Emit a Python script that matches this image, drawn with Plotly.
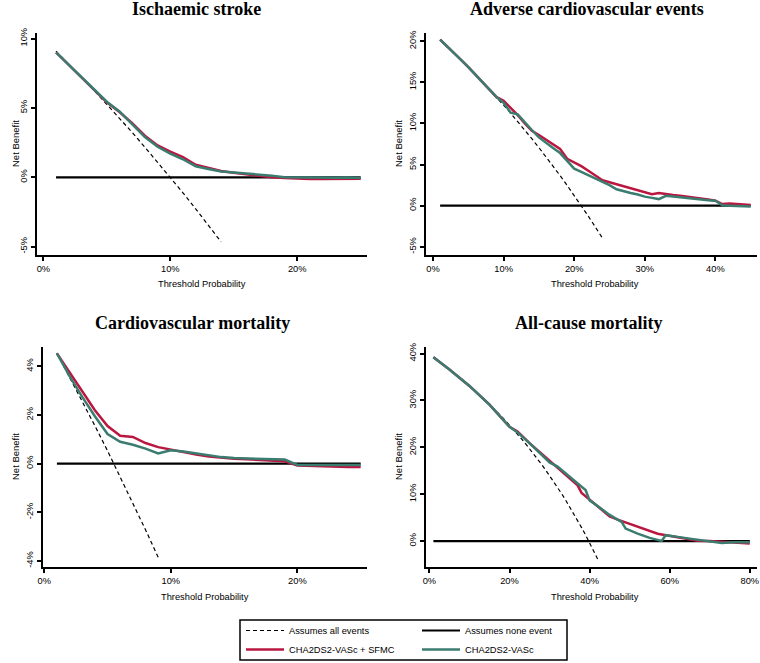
import plotly.graph_objects as go

W, H = 760, 663

# ---- data (net benefit in %, threshold probability in %) ----
# Ischaemic stroke
is_pt = list(range(1, 26))
is_sfmc = [9.0, 8.1, 7.2, 6.3, 5.4, 4.7, 3.9, 3.0, 2.3, 1.85, 1.45, 0.9, 0.65, 0.45, 0.33,
           0.22, 0.12, 0.0, -0.05, -0.1, -0.12, -0.12, -0.1, -0.12, -0.1]
is_cha = [9.0, 8.1, 7.2, 6.3, 5.45, 4.75, 3.85, 2.9, 2.2, 1.7, 1.3, 0.8, 0.6, 0.42, 0.35,
          0.28, 0.2, 0.12, 0.0, -0.02, -0.02, -0.03, -0.03, -0.02, -0.05]
is_all_pt = list(range(1, 15))
is_all = [9.09, 8.16, 7.22, 6.25, 5.26, 4.26, 3.23, 2.17, 1.10, 0.0, -1.12, -2.27, -3.45, -4.65]

# Adverse cardiovascular events
ace_pt = list(range(1, 46))
ace_sfmc = [20.2, 19.4, 18.55, 17.7, 16.85, 15.95, 15.05, 14.1, 13.2, 12.75, 11.9, 11.0, 10.0, 9.1, 8.6,
            8.0, 7.4, 6.9, 5.7, 5.3, 4.8, 4.25, 3.7, 3.1, 2.85, 2.6, 2.35, 2.1, 1.85, 1.6,
            1.4, 1.55, 1.4, 1.3, 1.2, 1.1, 1.0, 0.9, 0.75, 0.6, 0.2, 0.25, 0.2, 0.12, 0.08]
ace_cha = [20.2, 19.4, 18.55, 17.7, 16.85, 15.95, 15.05, 14.1, 13.2, 12.5, 11.3, 11.1, 10.1, 9.2, 8.3,
           7.6, 7.0, 6.4, 5.5, 4.5, 4.1, 3.7, 3.3, 2.9, 2.5, 2.0, 1.75, 1.55, 1.35, 1.1,
           0.95, 0.8, 1.2, 1.1, 1.0, 0.95, 0.85, 0.75, 0.65, 0.6, 0.05, 0.0, -0.05, -0.1, -0.1]
ace_all_pt = list(range(1, 25))
ace_all = [20.2, 19.39, 18.56, 17.71, 16.84, 15.96, 15.05, 14.13, 13.19, 12.22, 11.24, 10.23,
           9.20, 8.14, 7.06, 5.95, 4.82, 3.66, 2.47, 1.25, 0.0, -1.28, -2.60, -3.95]

# Cardiovascular mortality
cvm_pt = list(range(1, 26))
cvm_sfmc = [4.54, 3.75, 2.95, 2.2, 1.55, 1.15, 1.1, 0.85, 0.68, 0.57, 0.47, 0.38, 0.3, 0.24, 0.2,
            0.18, 0.15, 0.13, 0.1, -0.08, -0.1, -0.12, -0.13, -0.14, -0.14]
cvm_cha = [4.54, 3.6, 2.75, 1.95, 1.22, 0.9, 0.78, 0.62, 0.42, 0.55, 0.5, 0.42, 0.34, 0.27, 0.23,
           0.22, 0.21, 0.19, 0.17, -0.05, -0.05, -0.05, -0.05, -0.05, -0.05]
cvm_all_pt = list(range(1, 10))
cvm_all = [4.55, 3.57, 2.58, 1.56, 0.53, -0.53, -1.61, -2.72, -3.85]

# All-cause mortality
acm_pt = [1, 5, 10, 15, 20, 22, 25, 28, 30, 32, 34, 36, 37, 38, 39, 40, 42, 45, 47, 48, 49, 50,
          52, 55, 57, 58, 59, 60, 62, 65, 67, 70, 73, 76, 80]
acm_sfmc = [39.2, 36.6, 33.1, 29.1, 24.4, 23.4, 20.9, 18.7, 17.2, 15.7, 14.3, 12.7, 11.9, 10.3, 9.6,
            9.0, 7.4, 5.3, 4.6, 4.3, 4.0, 3.7, 3.1, 2.1, 1.6, 1.45, 1.3, 1.2, 0.75, 0.35, 0.1, 0.05,
            -0.15, -0.3, -0.5]
acm_cha = [39.2, 36.6, 33.1, 29.1, 24.4, 23.2, 20.9, 18.5, 16.8, 15.9, 14.4, 12.9, 12.3, 11.6, 10.9,
           8.7, 7.5, 5.6, 4.6, 4.1, 2.7, 2.3, 1.6, 0.71, 0.25, 0.07, 1.28, 1.2, 0.92, 0.55, 0.3, -0.1,
           -0.36, -0.25, -0.2]
acm_all_pt = list(range(1, 43))
acm_all = [39.19, 38.57, 37.94, 37.29, 36.63, 35.96, 35.27, 34.57, 33.85, 33.11, 32.36, 31.59,
           30.80, 30.00, 29.18, 28.33, 27.47, 26.59, 25.68, 24.75, 23.80, 22.82, 21.82, 20.79,
           19.73, 18.65, 17.53, 16.39, 15.21, 14.00, 12.75, 11.47, 10.15, 8.79, 7.39, 5.94,
           4.44, 2.90, 1.31, -0.33, -2.03, -3.79]

titles = ["Ischaemic stroke", "Adverse cardiovascular events",
          "Cardiovascular mortality", "All-cause mortality"]

panels = [
    dict(pt=is_pt, sfmc=is_sfmc, cha=is_cha, apt=is_all_pt, all=is_all,
         xr=[-0.5, 25.5], xt=[0, 10, 20], yr=[-5.6, 10.4], yt=[-5, 0, 5, 10]),
    dict(pt=ace_pt, sfmc=ace_sfmc, cha=ace_cha, apt=ace_all_pt, all=ace_all,
         xr=[-1.0, 45.9], xt=[0, 10, 20, 30, 40], yr=[-6.0, 21.0], yt=[-5, 0, 5, 10, 15, 20]),
    dict(pt=cvm_pt, sfmc=cvm_sfmc, cha=cvm_cha, apt=cvm_all_pt, all=cvm_all,
         xr=[-0.1, 25.5], xt=[0, 10, 20], yr=[-4.25, 4.8], yt=[-4, -2, 0, 2, 4]),
    dict(pt=acm_pt, sfmc=acm_sfmc, cha=acm_cha, apt=acm_all_pt, all=acm_all,
         xr=[-0.85, 81.8], xt=[0, 20, 40, 60, 80], yr=[-5.5, 41.4], yt=[0, 10, 20, 30, 40]),
]

# plot-area boxes in pixels: (left, right, top, bottom)
boxes = [(37, 367, 33, 255), (426, 757, 33, 255), (43, 367, 347, 567), (426, 757, 347, 567)]

RED = "#BA1740"
GREEN = "#3B7C71"
AX_FONT = dict(family="Liberation Sans, Arial", size=9.3, color="black")

fig = go.Figure()
layout = {}
for i, (p, b) in enumerate(zip(panels, boxes)):
    n = "" if i == 0 else str(i + 1)
    xa, ya = "x" + n, "y" + n
    first = i == 0
    fig.add_trace(go.Scatter(x=p["apt"], y=p["all"], mode="lines", xaxis=xa, yaxis=ya,
                             line=dict(color="black", width=1.2, dash="4px,3px"),
                             name="Assumes all events", legend="legend", showlegend=first))
    fig.add_trace(go.Scatter(x=[p["pt"][0], p["pt"][-1]], y=[0, 0], mode="lines", xaxis=xa, yaxis=ya,
                             line=dict(color="black", width=2.2),
                             name="Assumes none event", legend="legend2", showlegend=first))
    fig.add_trace(go.Scatter(x=p["pt"], y=p["sfmc"], mode="lines", xaxis=xa, yaxis=ya,
                             line=dict(color=RED, width=2.5),
                             name="CHA2DS2-VASc + SFMC", legend="legend", showlegend=first))
    fig.add_trace(go.Scatter(x=p["pt"], y=p["cha"], mode="lines", xaxis=xa, yaxis=ya,
                             line=dict(color=GREEN, width=2.5),
                             name="CHA2DS2-VASc", legend="legend2", showlegend=first))

    l, r, t, btm = b
    common = dict(showline=True, linecolor="black", linewidth=2, ticks="outside", ticklen=4,
                  tickwidth=2, tickcolor="black", showgrid=False, zeroline=False,
                  tickfont=AX_FONT, fixedrange=True, automargin=False)
    layout["xaxis" + n] = dict(common, domain=[l / W, r / W], range=p["xr"], anchor=ya,
                               tickvals=p["xt"], ticktext=[f"{v}%" for v in p["xt"]])
    layout["yaxis" + n] = dict(common, domain=[1 - btm / H, 1 - t / H], range=p["yr"], anchor=xa,
                               tickvals=p["yt"], ticktext=[f"{v}%" for v in p["yt"]],
                               tickangle=-90)

fig.update_layout(**layout)

title_pos = [(196, 9), (587, 9), (192, 323), (588, 323)]
xlab_pos = [(202, 284), (595, 284), (205, 597), (595, 597)]
ylab_pos = [(15, 144), (398, 144), (15, 457), (398, 457)]
ann = []
for txt, (tx, ty), (xx, xy), (yx, yy) in zip(titles, title_pos, xlab_pos, ylab_pos):
    ann.append(dict(text=f"<b>{txt}</b>", x=tx / W, y=1 - ty / H, xref="paper", yref="paper",
                    showarrow=False, xanchor="center", yanchor="middle",
                    font=dict(family="Liberation Serif, Times New Roman", size=18, color="black")))
    ann.append(dict(text="Threshold Probability", x=xx / W, y=1 - xy / H, xref="paper",
                    yref="paper", showarrow=False, xanchor="center", yanchor="middle",
                    font=dict(family="Liberation Sans, Arial", size=9.3, color="black")))
    ann.append(dict(text="Net Benefit", x=yx / W, y=1 - yy / H, xref="paper", yref="paper",
                    showarrow=False, xanchor="center", yanchor="middle", textangle=-90,
                    font=dict(family="Liberation Sans, Arial", size=9.5, color="black")))

leg_font = dict(family="Liberation Sans, Arial", size=9.3, color="black")
fig.update_layout(
    width=W, height=H,
    margin=dict(l=0, r=0, t=0, b=0, autoexpand=False),
    paper_bgcolor="white", plot_bgcolor="white",
    annotations=ann,
    legend=dict(x=241 / W, y=1 - 616 / H, xanchor="left", yanchor="top", font=leg_font,
                bgcolor="rgba(0,0,0,0)", itemwidth=38, tracegroupgap=0),
    legend2=dict(x=417 / W, y=1 - 616 / H, xanchor="left", yanchor="top", font=leg_font,
                 bgcolor="rgba(0,0,0,0)", itemwidth=38, tracegroupgap=0),
    shapes=[dict(type="rect", xref="paper", yref="paper", x0=240 / W, x1=567 / W,
                 y0=1 - 660 / H, y1=1 - 620 / H, line=dict(color="black", width=1.5))],
)

# the page body has a default 8px margin; drop it so the figure fills the window
fig.write_html("out.html", config={"displayModeBar": False},
               post_script="document.body.style.margin='0px';")
